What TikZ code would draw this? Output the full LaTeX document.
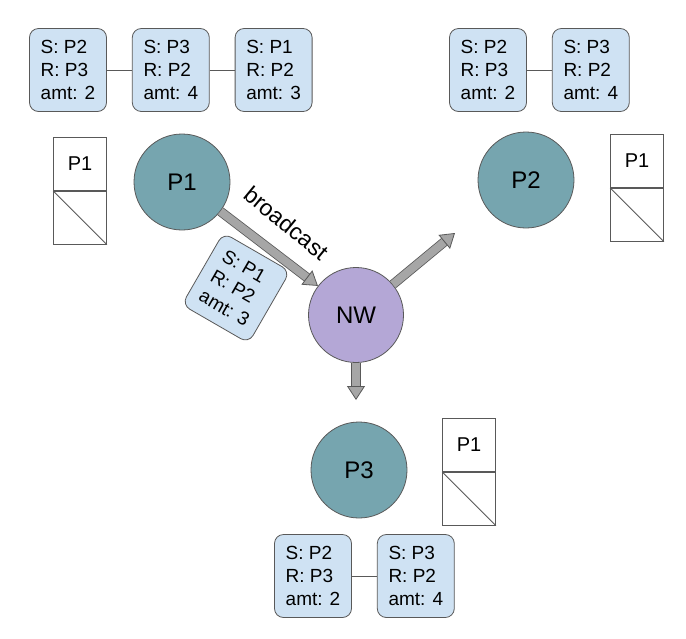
\documentclass[tikz,border=0pt]{standalone}
\usepackage{fontspec}
\setmainfont{Liberation Sans}
\usetikzlibrary{arrows.meta, positioning}
\definecolor{boxblue}{HTML}{CFE2F3}
\definecolor{proccol}{HTML}{76A5AF}
\definecolor{nwcol}{HTML}{B4A7D6}
\definecolor{edgegray}{HTML}{595959}

\begin{document}
\begin{tikzpicture}[x=1pt, y=-1pt,
    txbox/.style={draw=edgegray, line width=0.8pt, fill=boxblue, rounded corners=9pt, minimum width=77pt, minimum height=83pt, inner sep=0pt, align=left, font=\fontsize{19}{23}\selectfont},
    proc/.style={circle, draw=edgegray, line width=0.8pt, fill=proccol, minimum size=96pt, font=\fontsize{24}{28}\selectfont},
    cell/.style={draw=edgegray, line width=0.8pt, minimum size=53pt, inner sep=0pt, font=\fontsize{20}{24}\selectfont},
    link/.style={draw=edgegray, line width=1pt},
    bigarrow/.style={draw=gray!70, line width=8pt, -{Triangle[length=14pt, width=18pt, line width=0.8pt, fill=gray!70, color=edgegray]}, preaction={draw=edgegray, line width=9.6pt, arrows=-, shorten >=13pt}}]
    \useasboundingbox (0,0) rectangle (686,638);

    \node[txbox] (a1) at (68,70) {S: P2\\R: P3\\amt: 2};
    \node[txbox, right=25pt of a1] (a2) {S: P3\\R: P2\\amt: 4};
    \node[txbox, right=25pt of a2] (a3) {S: P1\\R: P2\\amt: 3};
    \draw[link] (a1) -- (a2) (a2) -- (a3);

    \node[txbox] (b1) at (488,70) {S: P2\\R: P3\\amt: 2};
    \node[txbox, right=25pt of b1] (b2) {S: P3\\R: P2\\amt: 4};
    \draw[link] (b1) -- (b2);

    \node[txbox] (c1) at (313,576) {S: P2\\R: P3\\amt: 2};
    \node[txbox, right=25pt of c1] (c2) {S: P3\\R: P2\\amt: 4};
    \draw[link] (c1) -- (c2);

    \foreach \n/\x/\y in {la/80/164, lb/637/161, lc/469/445} {
        \node[cell] (\n top) at (\x,\y) {P1};
        \node[cell, below=0pt of \n top] (\n bot) {};
        \draw[edgegray, line width=0.8pt] (\n bot.north west) -- (\n bot.south east);
    }

    \node[proc] (P1) at (182,182) {P1};
    \node[proc] (P2) at (526,180) {P2};
    \node[proc] (P3) at (359,470) {P3};
    \node[proc, fill=nwcol, minimum size=95pt] (NW) at (356,315) {NW};

    \coordinate (toP2) at (455,233);
    \coordinate (toP3) at (356,400);
    \draw[bigarrow] (P1) -- node[sloped, above=15pt, pos=0.48, rotate=-2, text=black, font=\fontsize{23}{27}\selectfont] (bcast) {broadcast} (NW);
    \draw[bigarrow] (NW) -- (toP2);
    \draw[bigarrow] (NW) -- (toP3);

    \node[txbox, rotate=-30] (msg) at (236,288) {S: P1\\R: P2\\amt: 3};
\end{tikzpicture}
\end{document}
